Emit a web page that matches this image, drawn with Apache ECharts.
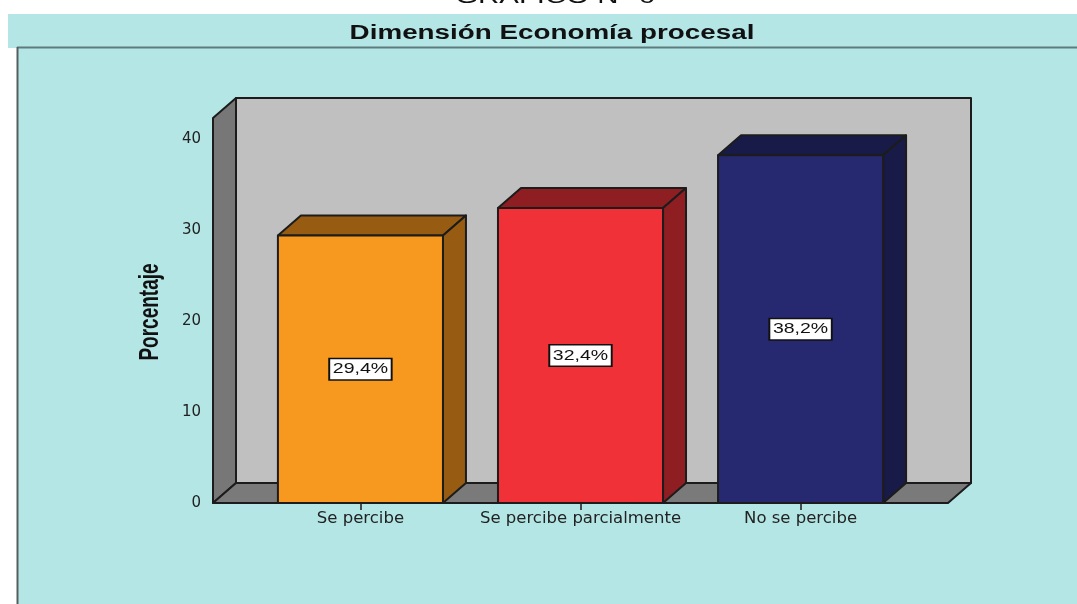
<!DOCTYPE html>
<html>
<head>
<meta charset="utf-8">
<title>Dimensión Economía procesal</title>
<script src="https://cdn.jsdelivr.net/npm/echarts@6/dist/echarts.min.js"></script>
<style>
  html, body { margin: 0; padding: 0; background: #ffffff; }
  #chart { width: 1077px; height: 604px; }
</style>
</head>
<body>
<div id="chart"></div>
<script>
// Survey result: perception of procedural economy (percent of respondents)
const categories = ['Se percibe', 'Se percibe parcialmente', 'No se percibe'];
const percentages = [29.4, 32.4, 38.2];
const valueLabels = ['29,4%', '32,4%', '38,2%'];
const yTicks = [0, 10, 20, 30, 40];
const categoryTicks = [0, 1, 2];
const barFront = ['#f7991f', '#f03238', '#272970'];
const barShade = ['#975b12', '#8f1e22', '#181a48'];

// Scale extents and oblique projection of the pseudo-3D box
const X_MIN = -0.67, X_MAX = 2.67, Y_MAX = 42.3;
const DEPTH_X = 23, DEPTH_Y = 20;
const HALF_BAR = 0.375;
const EDGE = '#1c1c1c';
const PANEL = '#b4e6e6';
const TEXT_STRETCH = 1.3;

const chart = echarts.init(document.getElementById('chart'));

const edgeStyle = { stroke: EDGE, lineWidth: 2, lineJoin: 'round' };
const toBack = p => [p[0] + DEPTH_X, p[1] - DEPTH_Y];

// Back wall, left wall and floor of the box
function renderWalls(params, api) {
  const fl = api.coord([X_MIN, 0]);
  const fr = api.coord([X_MAX, 0]);
  const tl = api.coord([X_MIN, Y_MAX]);
  const tr = api.coord([X_MAX, Y_MAX]);
  const btl = toBack(tl), btr = toBack(tr), bfl = toBack(fl), bfr = toBack(fr);
  return {
    type: 'group',
    children: [
      { type: 'rect',
        shape: { x: btl[0], y: btl[1], width: btr[0] - btl[0], height: bfl[1] - btl[1] },
        style: Object.assign({ fill: '#c0c0c0' }, edgeStyle) },
      { type: 'polygon', shape: { points: [fl, tl, btl, bfl] },
        style: Object.assign({ fill: '#777777' }, edgeStyle) },
      { type: 'polygon', shape: { points: [fl, fr, bfr, bfl] },
        style: Object.assign({ fill: '#7a7a7a' }, edgeStyle) }
    ]
  };
}

// One prism per category with its value tag on the front face
function renderBar(params, api) {
  const i = api.value(0), v = api.value(1);
  const idx = params.dataIndex;
  const half = api.size([HALF_BAR, 0])[0];
  const top = api.coord([i, v]);
  const base = api.coord([i, 0]);
  const mid = api.coord([i, v / 2]);
  const L = top[0] - half, R = top[0] + half, T = top[1], B = base[1];
  const face = fill => Object.assign({ fill: fill }, edgeStyle);
  return {
    type: 'group',
    children: [
      { type: 'polygon',
        shape: { points: [[L, T], [R, T], [R + DEPTH_X, T - DEPTH_Y], [L + DEPTH_X, T - DEPTH_Y]] },
        style: face(barShade[idx]) },
      { type: 'polygon',
        shape: { points: [[R, T], [R + DEPTH_X, T - DEPTH_Y], [R + DEPTH_X, B - DEPTH_Y], [R, B]] },
        style: face(barShade[idx]) },
      { type: 'rect', shape: { x: L, y: T, width: R - L, height: B - T },
        style: face(barFront[idx]) },
      { type: 'text', x: mid[0], y: mid[1], scaleX: TEXT_STRETCH, z2: 10,
        style: {
          text: valueLabels[idx],
          align: 'center', verticalAlign: 'middle',
          font: '15px "Liberation Sans", Arial, sans-serif',
          fill: '#111111',
          backgroundColor: '#ffffff',
          borderColor: '#111111', borderWidth: 1.5,
          padding: [3, 2, 2, 2]
        } }
    ]
  };
}

const option = {
  animation: false,
  backgroundColor: 'transparent',
  graphic: [
    { type: 'rect', z: -10, silent: true,
      shape: { x: 8, y: 14, width: 1069, height: 34 }, style: { fill: PANEL } },
    { type: 'rect', z: -10, silent: true,
      shape: { x: 17, y: 48, width: 1060, height: 556 }, style: { fill: PANEL } },
    { type: 'line', z: -9, silent: true,
      shape: { x1: 17, y1: 47.5, x2: 1077, y2: 47.5 },
      style: { stroke: '#5e7c7d', lineWidth: 2 } },
    { type: 'line', z: -9, silent: true,
      shape: { x1: 17.5, y1: 47, x2: 17.5, y2: 604 },
      style: { stroke: '#555f60', lineWidth: 2 } },
    { type: 'text', x: 555, y: 8, scaleX: 1.4, silent: true,
      style: { text: 'GRÁFICO N° 6', align: 'center', verticalAlign: 'bottom',
               font: '21px "Liberation Sans", Arial, sans-serif', fill: '#111111' } },
    { type: 'text', x: 552, y: 33, scaleX: 1.39, silent: true,
      style: { text: 'Dimensión Economía procesal', align: 'center', verticalAlign: 'middle',
               font: 'bold 20px "Liberation Sans", Arial, sans-serif', fill: '#111111' } },
    { type: 'text', x: 151, y: 312, rotation: Math.PI / 2, scaleY: 1.43, silent: true,
      style: { text: 'Porcentaje', align: 'center', verticalAlign: 'middle',
               font: 'bold 19px "Liberation Sans", Arial, sans-serif', fill: '#111111' } }
  ],
  grid: { left: 213, right: 129, top: 118, bottom: 101, containLabel: false },
  xAxis: {
    type: 'value', min: X_MIN, max: X_MAX,
    axisLine: { show: false },
    splitLine: { show: false },
    axisTick: { show: true, customValues: categoryTicks, length: 7,
                lineStyle: { color: EDGE, width: 1.5 } },
    axisLabel: { customValues: categoryTicks,
                 formatter: v => categories[Math.round(v)],
                 fontFamily: 'DejaVu Sans', fontSize: 16.5, color: '#222222', margin: 7 }
  },
  yAxis: {
    type: 'value', min: 0, max: Y_MAX, interval: 10,
    axisLine: { show: false },
    splitLine: { show: false },
    axisTick: { show: true, customValues: yTicks, length: 11,
                lineStyle: { color: EDGE, width: 2 } },
    axisLabel: { customValues: yTicks, fontFamily: 'DejaVu Sans', fontSize: 15,
                 color: '#222222', margin: 12 }
  },
  series: [
    { type: 'custom', name: 'box', silent: true, z: 1,
      renderItem: renderWalls, data: [[0, 0]] },
    { type: 'custom', name: 'Porcentaje', silent: true, z: 3,
      renderItem: renderBar,
      data: percentages.map((v, i) => [i, v]) }
  ]
};

chart.setOption(option);
</script>
</body>
</html>
